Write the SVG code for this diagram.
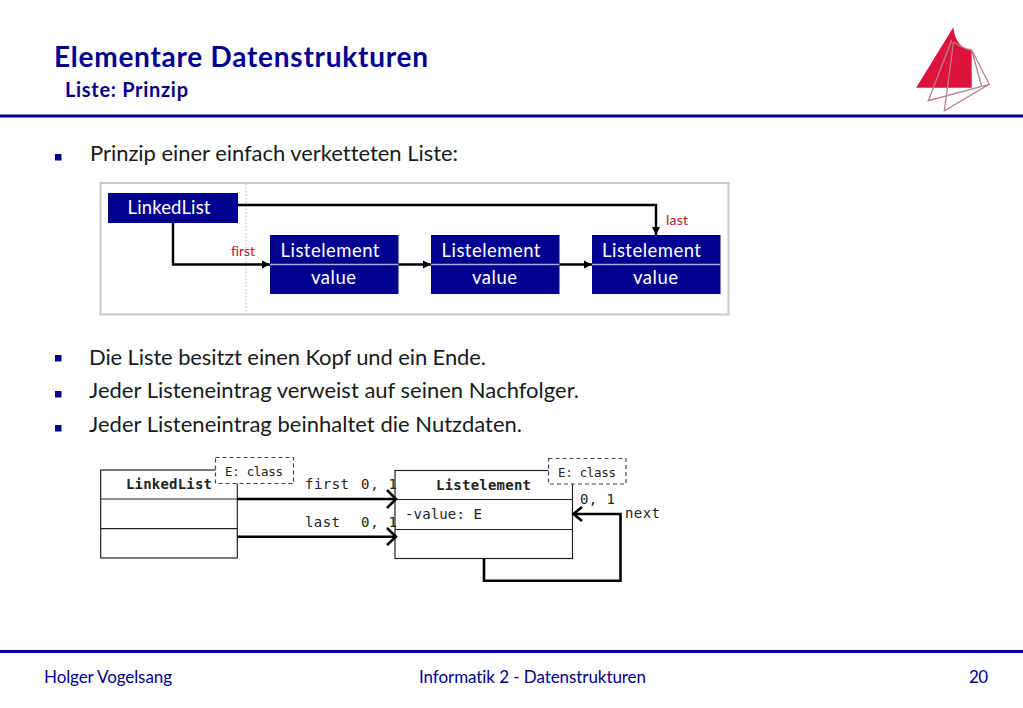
<svg xmlns="http://www.w3.org/2000/svg" width="1023" height="708" viewBox="0 0 1023 708">
<style>
.s{font-family:"Lato","Open Sans","Liberation Sans",sans-serif;font-variant-ligatures:none}
.t{fill:#000090;font-weight:bold}
.b{font-size:22px;fill:#1a1a1a}
.f{font-size:17px;fill:#000090}
.n{font-size:18.5px;fill:#fff;text-anchor:middle}
.r{font-size:14px;fill:#c8103c}
.m{font-family:"DejaVu Sans Mono","Liberation Mono",monospace;font-size:14px;fill:#222}
.e{font-size:12.5px}
.bl{fill:#000090}
.box{fill:#000090}
.div{stroke:#a9a9dc;stroke-width:1.3}
.u{fill:#fff;stroke:#222;stroke-width:1.2}
.ul{stroke:#222;stroke-width:1.2}
.d{fill:#fff;stroke:#444;stroke-width:1.2;stroke-dasharray:4 3}
.c{fill:none;stroke:#000;stroke-width:2.4}
.o{fill:none;stroke:#000;stroke-width:2.6}
</style>
<defs>
<marker id="a" markerUnits="userSpaceOnUse" markerWidth="9" markerHeight="9" refX="8" refY="4.5" orient="auto"><path d="M0 0.500L8 4.500L0 8.500Z" fill="#000"/></marker>
</defs>
<rect width="1023" height="708" fill="#fff"/>
<g id="logo">
<path d="M916.200 87.700L953.300 27.200C955 42 962 49 971.700 50V87.700Z" fill="#dc143c"/>
<path d="M951.700 40L928.300 100.700L989.300 84.300L971.700 50M953.500 42L944.300 110.700L989.300 84.300M971.700 50L981.700 86.700M954 42C958 45 965 49 971.700 50" fill="none" stroke="#b8808c" stroke-width="1.300"/>
</g>
<g id="header">
<text class="s t" x="54" y="67" font-size="28" textLength="374">Elementare Datenstrukturen</text>
<text class="s t" x="65" y="97" font-size="20" textLength="123">Liste: Prinzip</text>
<rect x="0" y="114.500" width="1023" height="3" fill="#000090"/>
</g>
<g id="bullets">
<rect class="bl" x="55" y="154" width="6.500" height="6.500"/>
<text class="s b" x="90" y="161" textLength="368">Prinzip einer einfach verketteten Liste:</text>
<rect class="bl" x="55" y="355" width="6.500" height="6.500"/>
<text class="s b" x="89" y="365" textLength="397">Die Liste besitzt einen Kopf und ein Ende.</text>
<rect class="bl" x="55" y="391" width="6.500" height="6.500"/>
<text class="s b" x="89" y="398" textLength="490">Jeder Listeneintrag verweist auf seinen Nachfolger.</text>
<rect class="bl" x="55" y="425" width="6.500" height="6.500"/>
<text class="s b" x="89" y="432" textLength="433">Jeder Listeneintrag beinhaltet die Nutzdaten.</text>
</g>
<g id="frame">
<rect x="100.500" y="183" width="628" height="131.500" fill="#fff" stroke="#c8c8c8" stroke-width="2"/>
<line x1="246" y1="184" x2="246" y2="313" stroke="#c8c8c8" stroke-width="1.300" stroke-dasharray="1.500 2"/>
</g>
<g id="connectors-top">
<path class="c" d="M238 205H656V235" marker-end="url(#a)"/>
<path class="c" d="M173 223V264.500H270" marker-end="url(#a)"/>
<path class="c" d="M398 264.500H431" marker-end="url(#a)"/>
<path class="c" d="M559 264.500H592" marker-end="url(#a)"/>
</g>
<g id="node-linkedlist">
<rect class="box" x="108" y="193" width="130" height="30"/>
<text class="s n" x="169" y="214" textLength="83">LinkedList</text>
</g>
<g id="node-el1">
<rect class="box" x="270" y="235" width="128.500" height="59"/>
<line class="div" x1="270" y1="264.500" x2="398.500" y2="264.500"/>
<text class="s n" x="330" y="256.500" textLength="99">Listelement</text>
<text class="s n" x="333.500" y="284" textLength="45">value</text>
</g>
<g id="node-el2">
<rect class="box" x="431" y="235" width="128.500" height="59"/>
<line class="div" x1="431" y1="264.500" x2="559.500" y2="264.500"/>
<text class="s n" x="491" y="256.500" textLength="99">Listelement</text>
<text class="s n" x="494.500" y="284" textLength="45">value</text>
</g>
<g id="node-el3">
<rect class="box" x="592" y="235" width="128.500" height="59"/>
<line class="div" x1="592" y1="264.500" x2="720.500" y2="264.500"/>
<text class="s n" x="651.500" y="256.500" textLength="99">Listelement</text>
<text class="s n" x="655.500" y="284" textLength="45">value</text>
</g>
<text class="s r" x="231" y="256" textLength="24">first</text>
<text class="s r" x="666" y="225" textLength="22">last</text>
<g id="uml-linkedlist">
<rect class="u" x="100.700" y="470" width="136.600" height="88"/>
<line class="ul" x1="100.700" y1="499" x2="237.300" y2="499"/>
<line class="ul" x1="100.700" y1="528.700" x2="237.300" y2="528.700"/>
<text class="m" x="126" y="489" font-weight="bold" textLength="86">LinkedList</text>
<rect class="d" x="215.500" y="457.500" width="78" height="26"/>
<text class="m e" x="225" y="476" textLength="58">E: class</text>
</g>
<g id="uml-listelement">
<rect class="u" x="395" y="470.500" width="177.500" height="88"/>
<line class="ul" x1="395" y1="499.500" x2="572.500" y2="499.500"/>
<line class="ul" x1="395" y1="529.500" x2="572.500" y2="529.500"/>
<text class="m" x="436" y="490" font-weight="bold" textLength="95">Listelement</text>
<text class="m" x="405" y="519" textLength="77">-value: E</text>
<rect class="d" x="548.500" y="458.500" width="77.500" height="25.500"/>
<text class="m e" x="558" y="477" textLength="58">E: class</text>
</g>
<g id="connectors-uml">
<path class="o" d="M237.500 499H395"/>
<path class="o" d="M237.500 536.700H395"/>
<path class="o" d="M387 490L396 499L387 508M387 528L396 536.700L387 545"/>
<path class="o" d="M484 558.500V580.700H620.500V514H574"/>
<path class="o" d="M582 507L573.500 514L582 521"/>
</g>
<g id="uml-labels">
<text class="m" x="305" y="489" textLength="44">first</text>
<text class="m" x="361" y="489" textLength="36">0, 1</text>
<text class="m" x="305" y="527" textLength="35">last</text>
<text class="m" x="361" y="527" textLength="36">0, 1</text>
<text class="m" x="580" y="504" textLength="35">0, 1</text>
<text class="m" x="625" y="518" textLength="35">next</text>
</g>
<g id="footer">
<rect x="0" y="650" width="1023" height="3" fill="#000090"/>
<text class="s f" x="44" y="683" textLength="128">Holger Vogelsang</text>
<text class="s f" x="419" y="683" textLength="227">Informatik 2 - Datenstrukturen</text>
<text class="s f" x="969" y="683" textLength="19">20</text>
</g>
</svg>
